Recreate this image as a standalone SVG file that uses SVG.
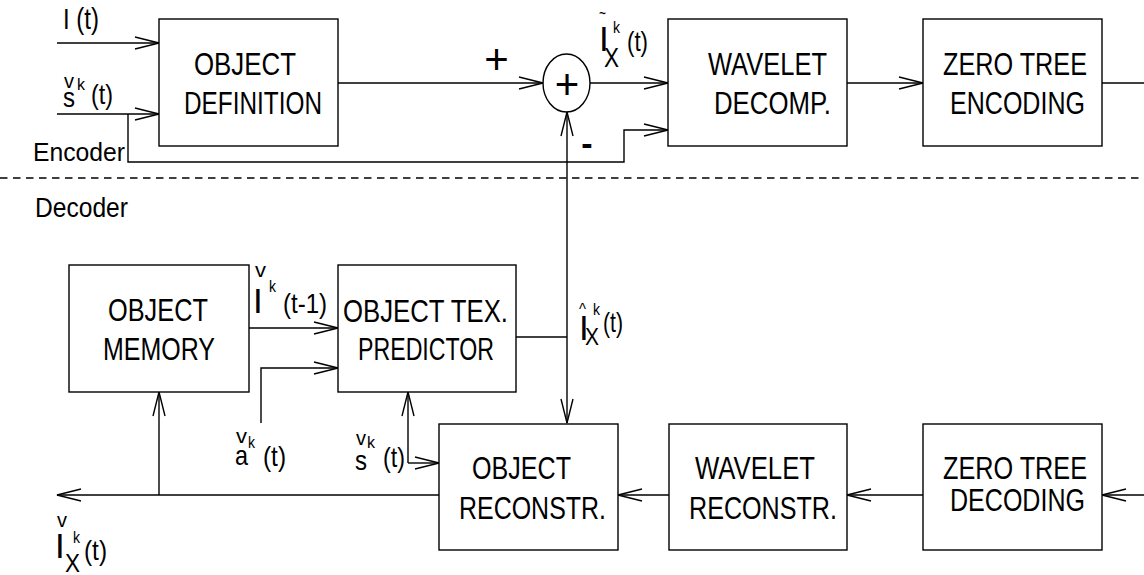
<svg xmlns="http://www.w3.org/2000/svg" width="1144" height="575" viewBox="0 0 1144 575">
<style>
.box{fill:#fff;stroke:#000;stroke-width:1.4}
.ln{fill:none;stroke:#000;stroke-width:1.4}
.arr{marker-end:url(#ah)}
text{font-family:"Liberation Sans",Arial,sans-serif;fill:#000}
.t{font-size:31px}
.lb{font-size:28px}
.sup{font-size:17px}
.acc{font-size:20px}
.big{font-size:35px}
</style>
<defs>
<marker id="ah" markerUnits="userSpaceOnUse" viewBox="0 0 26 14" markerWidth="26" markerHeight="14" refX="24" refY="7" orient="auto" overflow="visible">
<path d="M0,1 L24,7 L0,13" fill="none" stroke="#000" stroke-width="1.4"/>
</marker>
</defs>
<rect width="1144" height="575" fill="#fff"/>

<g id="connectors">
<line class="ln" x1="0" y1="178" x2="1144" y2="178" stroke-dasharray="7.5 5.5"/>
<path class="ln arr" d="M57,43 H159"/>
<path class="ln arr" d="M57,114 H159"/>
<path class="ln arr" d="M128,114 V162 H624 V130 H668"/>
<path class="ln arr" d="M338,83 H543"/>
<path class="ln arr" d="M590,83 H668"/>
<path class="ln arr" d="M847,83 H923"/>
<path class="ln" d="M1102,83 H1144"/>
<path class="ln" d="M516,337 H567"/>
<path class="ln arr" d="M567,337 V112"/>
<path class="ln arr" d="M567,337 V423"/>
<path class="ln arr" d="M249,328 H338"/>
<path class="ln arr" d="M261,423 V368 H338"/>
<path class="ln arr" d="M408,463 V392"/>
<path class="ln arr" d="M408,463 H439"/>
<path class="ln arr" d="M439,495 H57"/>
<path class="ln arr" d="M159,495 V392"/>
<path class="ln arr" d="M669,495 H618"/>
<path class="ln arr" d="M923,495 H847"/>
<path class="ln arr" d="M1144,495 H1102"/>
</g>

<g id="object-definition">
<rect class="box" x="159" y="19" width="179" height="127"/>
<text class="t" x="194" y="75" textLength="102" lengthAdjust="spacingAndGlyphs">OBJECT</text>
<text class="t" x="184" y="114" textLength="138" lengthAdjust="spacingAndGlyphs">DEFINITION</text>
</g>
<g id="summer">
<ellipse class="ln" cx="566.5" cy="83" rx="23.5" ry="29"/>
<text x="567" y="99" font-size="42" text-anchor="middle">+</text>
</g>
<g id="wavelet-decomp">
<rect class="box" x="668" y="19" width="179" height="127"/>
<text class="t" x="708" y="75" textLength="119" lengthAdjust="spacingAndGlyphs">WAVELET</text>
<text class="t" x="714" y="114" textLength="117" lengthAdjust="spacingAndGlyphs">DECOMP.</text>
</g>
<g id="zero-tree-encoding">
<rect class="box" x="923" y="19" width="179" height="127"/>
<text class="t" x="943" y="75" textLength="144" lengthAdjust="spacingAndGlyphs">ZERO TREE</text>
<text class="t" x="950" y="114" textLength="135" lengthAdjust="spacingAndGlyphs">ENCODING</text>
</g>
<g id="object-memory">
<rect class="box" x="69" y="265" width="180" height="127"/>
<text class="t" x="108" y="321" textLength="100" lengthAdjust="spacingAndGlyphs">OBJECT</text>
<text class="t" x="103" y="360" textLength="112" lengthAdjust="spacingAndGlyphs">MEMORY</text>
</g>
<g id="object-tex-predictor">
<rect class="box" x="338" y="265" width="178" height="127"/>
<text class="t" x="343" y="322" textLength="165" lengthAdjust="spacingAndGlyphs">OBJECT TEX.</text>
<text class="t" x="358" y="360" textLength="136" lengthAdjust="spacingAndGlyphs">PREDICTOR</text>
</g>
<g id="object-reconstr">
<rect class="box" x="439" y="424" width="179" height="126"/>
<text class="t" x="472" y="479" textLength="99" lengthAdjust="spacingAndGlyphs">OBJECT</text>
<text class="t" x="459" y="519" textLength="147" lengthAdjust="spacingAndGlyphs">RECONSTR.</text>
</g>
<g id="wavelet-reconstr">
<rect class="box" x="669" y="424" width="178" height="126"/>
<text class="t" x="695" y="479" textLength="120" lengthAdjust="spacingAndGlyphs">WAVELET</text>
<text class="t" x="689" y="519" textLength="148" lengthAdjust="spacingAndGlyphs">RECONSTR.</text>
</g>
<g id="zero-tree-decoding">
<rect class="box" x="923" y="424" width="179" height="126"/>
<text class="t" x="943" y="479" textLength="144" lengthAdjust="spacingAndGlyphs">ZERO TREE</text>
<text class="t" x="950" y="511" textLength="135" lengthAdjust="spacingAndGlyphs">DECODING</text>
</g>

<g id="labels">
<text x="33" y="161" font-size="25" textLength="92" lengthAdjust="spacingAndGlyphs">Encoder</text>
<text x="35" y="217" font-size="27" textLength="93" lengthAdjust="spacingAndGlyphs">Decoder</text>
<text x="496.5" y="74" font-size="42" text-anchor="middle">+</text>
<text x="587" y="155" font-size="34" font-weight="bold" text-anchor="middle">-</text>

<!-- I(t) -->
<text x="63" y="29" font-size="29" textLength="36" lengthAdjust="spacingAndGlyphs">I (t)</text>

<!-- s(t) top -->
<text class="acc" x="64" y="88" textLength="10" lengthAdjust="spacingAndGlyphs">v</text>
<text class="lb" x="63" y="107" textLength="12" lengthAdjust="spacingAndGlyphs">s</text>
<text class="sup" x="77" y="90" textLength="8" lengthAdjust="spacingAndGlyphs">k</text>
<text class="lb" x="91" y="104" textLength="22" lengthAdjust="spacingAndGlyphs">(t)</text>

<!-- I~ k X (t) -->
<text x="599" y="19" font-size="18" textLength="7" lengthAdjust="spacingAndGlyphs">~</text>
<text class="big" x="599" y="51">I</text>
<text class="sup" x="613" y="33" textLength="7" lengthAdjust="spacingAndGlyphs">k</text>
<text x="604" y="67" font-size="28" textLength="15" lengthAdjust="spacingAndGlyphs">X</text>
<text class="lb" x="627" y="51" textLength="21" lengthAdjust="spacingAndGlyphs">(t)</text>

<!-- I^ k X (t) -->
<text x="579" y="315" font-size="16" textLength="7" lengthAdjust="spacingAndGlyphs">^</text>
<text class="big" x="579" y="340">I</text>
<text class="sup" x="593" y="315" textLength="7" lengthAdjust="spacingAndGlyphs">k</text>
<text x="585" y="345" font-size="24" textLength="14" lengthAdjust="spacingAndGlyphs">X</text>
<text class="lb" x="603" y="332" textLength="20" lengthAdjust="spacingAndGlyphs">(t)</text>

<!-- I k (t-1) -->
<text class="acc" x="255" y="277" textLength="11" lengthAdjust="spacingAndGlyphs">v</text>
<text class="big" x="253" y="313">I</text>
<text class="sup" x="269" y="292" textLength="7" lengthAdjust="spacingAndGlyphs">k</text>
<text class="lb" x="283" y="313" textLength="44" lengthAdjust="spacingAndGlyphs">(t-1)</text>

<!-- a k (t) -->
<text class="acc" x="236" y="443" textLength="11" lengthAdjust="spacingAndGlyphs">v</text>
<text class="lb" x="235" y="465" textLength="13" lengthAdjust="spacingAndGlyphs">a</text>
<text class="sup" x="248" y="448" textLength="7" lengthAdjust="spacingAndGlyphs">k</text>
<text class="lb" x="263" y="466" textLength="23" lengthAdjust="spacingAndGlyphs">(t)</text>

<!-- s k (t) bottom -->
<text class="acc" x="356" y="445" textLength="10" lengthAdjust="spacingAndGlyphs">v</text>
<text class="lb" x="355" y="470" textLength="12" lengthAdjust="spacingAndGlyphs">s</text>
<text class="sup" x="367" y="448" textLength="8" lengthAdjust="spacingAndGlyphs">k</text>
<text class="lb" x="383" y="467" textLength="22" lengthAdjust="spacingAndGlyphs">(t)</text>

<!-- I k X (t) bottom-left -->
<text class="acc" x="57" y="527" textLength="10" lengthAdjust="spacingAndGlyphs">v</text>
<text class="big" x="55" y="558">I</text>
<text class="sup" x="73" y="543" textLength="7" lengthAdjust="spacingAndGlyphs">k</text>
<text x="65" y="572" font-size="25" textLength="15" lengthAdjust="spacingAndGlyphs">X</text>
<text class="lb" x="84" y="560" textLength="23" lengthAdjust="spacingAndGlyphs">(t)</text>
</g>
</svg>
